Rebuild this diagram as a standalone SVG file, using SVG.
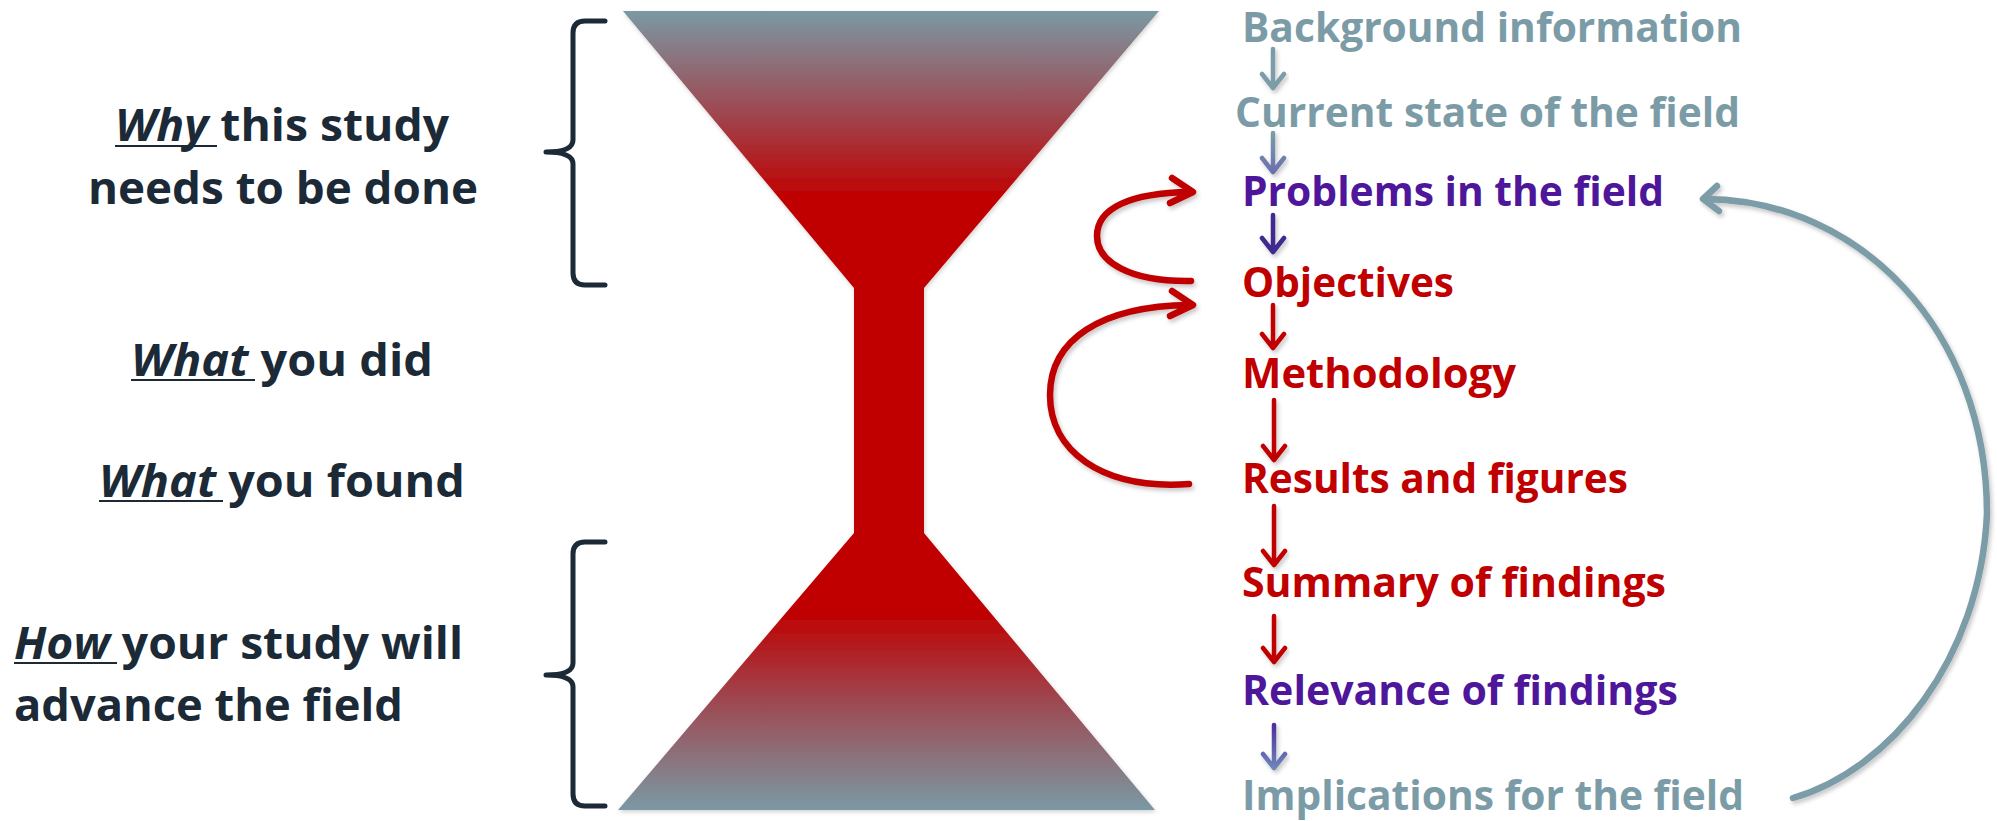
<svg xmlns="http://www.w3.org/2000/svg" width="1997" height="821" viewBox="0 0 1997 821">
  <style>
    .lt { font-family: "Open Sans", "Liberation Sans", sans-serif; font-weight: 700; font-size: 44px; fill: #1b2a36; }
    .lt .it { font-style: italic; }
    .ul { stroke: #1b2a36; stroke-width: 2; }
    .rt { font-family: "Open Sans", "Liberation Sans", sans-serif; font-weight: 700; font-size: 42px; }
    .grey { fill: #7b9ca7; }
    .purple { fill: #4e169a; }
    .red { fill: #c00000; }
    .brace { fill: none; stroke: #1b2a36; stroke-width: 5; stroke-linecap: round; stroke-linejoin: round; }
    .arr { fill: none; stroke-width: 4.5; stroke-linecap: round; stroke-linejoin: round; filter: url(#sh); }
    .curve { fill: none; stroke-width: 6.5; stroke-linecap: round; stroke-linejoin: round; filter: url(#sh); }
  </style>
  <defs>
    <filter id="sh" x="-20%" y="-20%" width="140%" height="140%">
      <feDropShadow dx="2" dy="3" stdDeviation="2" flood-color="#000" flood-opacity="0.22"/>
    </filter>
    <filter id="shg" x="-5%" y="-5%" width="110%" height="110%">
      <feDropShadow dx="1" dy="2" stdDeviation="2" flood-color="#000" flood-opacity="0.18"/>
    </filter>
    <linearGradient id="hg" gradientUnits="userSpaceOnUse" x1="0" y1="11" x2="0" y2="810">
      <stop offset="0" stop-color="#7a99a4"/>
      <stop offset="0.12" stop-color="#9c4c55"/>
      <stop offset="0.235" stop-color="#c00000"/>
      <stop offset="0.752" stop-color="#c00000"/>
      <stop offset="0.87" stop-color="#9c4c55"/>
      <stop offset="1" stop-color="#7a99a4"/>
    </linearGradient>
    <linearGradient id="g2" x1="0" y1="0" x2="0" y2="1">
      <stop offset="0" stop-color="#7b9ca7"/>
      <stop offset="1" stop-color="#6a70b0"/>
    </linearGradient>
    <linearGradient id="g8" x1="0" y1="0" x2="0" y2="1">
      <stop offset="0" stop-color="#4e2ea0"/>
      <stop offset="1" stop-color="#6e86b8"/>
    </linearGradient>
  </defs>

  <g id="hourglass">
    <polygon points="623,11 1159,11 924,288 924,533 1155,810 618,810 854,533 854,288" fill="url(#hg)" filter="url(#shg)"/>
  </g>

  <g id="brace-top">
    <path class="brace" d="M605,21 L585,21 Q573,21 573,33 L573,140 Q573,152 546,152 Q573,152 573,164 L573,273 Q573,285 585,285 L605,285"/>
  </g>
  <g id="brace-bottom">
    <path class="brace" d="M605,542 L585,542 Q573,542 573,554 L573,663 Q573,675 546,675 Q573,675 573,687 L573,794 Q573,806 585,806 L605,806"/>
  </g>

  <g id="label-why">
    <text class="lt" x="115" y="141" textLength="334" lengthAdjust="spacingAndGlyphs"><tspan class="it">Why</tspan> this study</text>
    <text class="lt" x="88" y="204" textLength="390" lengthAdjust="spacingAndGlyphs">needs to be done</text>
    <line class="ul" x1="115" y1="146" x2="217" y2="146"/>
  </g>
  <g id="label-what-did">
    <text class="lt" x="131" y="376" textLength="302" lengthAdjust="spacingAndGlyphs"><tspan class="it">What</tspan> you did</text>
    <line class="ul" x1="131" y1="380" x2="255" y2="380"/>
  </g>
  <g id="label-what-found">
    <text class="lt" x="99" y="497" textLength="366" lengthAdjust="spacingAndGlyphs"><tspan class="it">What</tspan> you found</text>
    <line class="ul" x1="99" y1="501" x2="223" y2="501"/>
  </g>
  <g id="label-how">
    <text class="lt" x="14" y="659" textLength="449" lengthAdjust="spacingAndGlyphs"><tspan class="it">How</tspan> your study will</text>
    <text class="lt" x="14" y="721" textLength="389" lengthAdjust="spacingAndGlyphs">advance the field</text>
    <line class="ul" x1="14" y1="663" x2="117" y2="663"/>
  </g>

  <g id="n-background"><text class="rt grey" x="1242" y="42" textLength="500" lengthAdjust="spacingAndGlyphs">Background information</text></g>
  <g id="n-current"><text class="rt grey" x="1235" y="127" textLength="505" lengthAdjust="spacingAndGlyphs">Current state of the field</text></g>
  <g id="n-problems"><text class="rt purple" x="1242" y="206" textLength="422" lengthAdjust="spacingAndGlyphs">Problems in the field</text></g>
  <g id="n-objectives"><text class="rt red" x="1242" y="297" textLength="212" lengthAdjust="spacingAndGlyphs">Objectives</text></g>
  <g id="n-methodology"><text class="rt red" x="1242" y="388" textLength="274" lengthAdjust="spacingAndGlyphs">Methodology</text></g>
  <g id="n-results"><text class="rt red" x="1242" y="493" textLength="386" lengthAdjust="spacingAndGlyphs">Results and figures</text></g>
  <g id="n-summary"><text class="rt red" x="1242" y="597" textLength="424" lengthAdjust="spacingAndGlyphs">Summary of findings</text></g>
  <g id="n-relevance"><text class="rt purple" x="1242" y="705" textLength="436" lengthAdjust="spacingAndGlyphs">Relevance of findings</text></g>
  <g id="n-implications"><text class="rt grey" x="1242" y="810" textLength="502" lengthAdjust="spacingAndGlyphs">Implications for the field</text></g>

  <g id="connectors">
    <path class="arr" stroke="#7b9ca7" d="M1273,49 L1273,88 M1262,74 L1273,88 L1284,74"/>
    <path class="arr" stroke="url(#g2)" d="M1273,133 L1273,172 M1262,158 L1273,172 L1284,158"/>
    <path class="arr" stroke="#3f2a90" d="M1273,215 L1273,252 M1262,238 L1273,252 L1284,238"/>
    <path class="arr" stroke="#c00000" d="M1273,305 L1273,348 M1262,334 L1273,348 L1284,334"/>
    <path class="arr" stroke="#c00000" d="M1274,400 L1274,460 M1263,446 L1274,460 L1285,446"/>
    <path class="arr" stroke="#c00000" d="M1274,506 L1274,565 M1263,551 L1274,565 L1285,551"/>
    <path class="arr" stroke="#c00000" d="M1274,616 L1274,662 M1263,648 L1274,662 L1285,648"/>
    <path class="arr" stroke="url(#g8)" d="M1274,725 L1274,768 M1263,754 L1274,768 L1285,754"/>

    <path class="curve" stroke="#c00000" d="M1191,281 C1130,282 1097,262 1097,236 C1097,208 1130,193 1190,192 M1172,178 L1193,192 L1170,203"/>
    <path class="curve" stroke="#c00000" d="M1189,484 C1100,490 1050,450 1050,395 C1050,340 1100,306 1190,305 M1172,291 L1193,305 L1170,316"/>
    <path class="curve" stroke="#7b9ca7" d="M1793,798 C1890,770 1980,660 1987,514 C1987,330 1860,200 1705,199 M1717,186 L1703,199 L1719,211"/>
  </g>
</svg>
